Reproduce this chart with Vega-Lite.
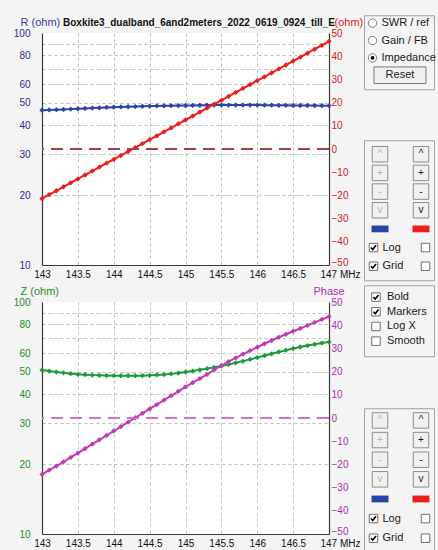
{
  "$schema": "https://vega.github.io/schema/vega-lite/v6.json",
  "background": "#f4f4f4",
  "padding": {"left": 13, "top": 14, "right": 2, "bottom": 2},
  "datasets": {
    "sweep": [
      {"f": 143.0, "R": 46.5, "P1": -21.4, "Z": 50.9, "P2": -24.3},
      {"f": 143.1, "R": 46.6, "P1": -19.7, "Z": 50.4, "P2": -22.5},
      {"f": 143.2, "R": 46.7, "P1": -18.0, "Z": 49.9, "P2": -20.7},
      {"f": 143.3, "R": 46.85, "P1": -16.3, "Z": 49.5, "P2": -18.9},
      {"f": 143.4, "R": 47.0, "P1": -14.6, "Z": 49.1, "P2": -17.0},
      {"f": 143.5, "R": 47.15, "P1": -12.9, "Z": 48.8, "P2": -15.1},
      {"f": 143.6, "R": 47.3, "P1": -11.2, "Z": 48.6, "P2": -13.2},
      {"f": 143.7, "R": 47.45, "P1": -9.5, "Z": 48.4, "P2": -11.3},
      {"f": 143.8, "R": 47.6, "P1": -7.8, "Z": 48.3, "P2": -9.4},
      {"f": 143.9, "R": 47.75, "P1": -6.1, "Z": 48.2, "P2": -7.5},
      {"f": 144.0, "R": 47.9, "P1": -4.5, "Z": 48.15, "P2": -5.6},
      {"f": 144.1, "R": 48.0, "P1": -2.8, "Z": 48.1, "P2": -3.7},
      {"f": 144.2, "R": 48.1, "P1": -1.1, "Z": 48.1, "P2": -1.8},
      {"f": 144.3, "R": 48.2, "P1": 0.6, "Z": 48.1, "P2": 0.1},
      {"f": 144.4, "R": 48.3, "P1": 2.3, "Z": 48.15, "P2": 2.0},
      {"f": 144.5, "R": 48.4, "P1": 4.0, "Z": 48.3, "P2": 3.9},
      {"f": 144.6, "R": 48.5, "P1": 5.7, "Z": 48.5, "P2": 5.8},
      {"f": 144.7, "R": 48.55, "P1": 7.4, "Z": 48.7, "P2": 7.7},
      {"f": 144.8, "R": 48.6, "P1": 9.1, "Z": 49.0, "P2": 9.6},
      {"f": 144.9, "R": 48.65, "P1": 10.8, "Z": 49.4, "P2": 11.5},
      {"f": 145.0, "R": 48.7, "P1": 12.5, "Z": 49.9, "P2": 13.4},
      {"f": 145.1, "R": 48.75, "P1": 14.2, "Z": 50.4, "P2": 15.2},
      {"f": 145.2, "R": 48.8, "P1": 15.9, "Z": 51.0, "P2": 17.0},
      {"f": 145.3, "R": 48.85, "P1": 17.6, "Z": 51.6, "P2": 18.8},
      {"f": 145.4, "R": 48.9, "P1": 19.3, "Z": 52.3, "P2": 20.8},
      {"f": 145.5, "R": 48.9, "P1": 21.0, "Z": 53.0, "P2": 22.6},
      {"f": 145.6, "R": 48.9, "P1": 22.7, "Z": 53.8, "P2": 24.3},
      {"f": 145.7, "R": 48.9, "P1": 24.4, "Z": 54.7, "P2": 25.9},
      {"f": 145.8, "R": 48.9, "P1": 26.1, "Z": 55.6, "P2": 27.5},
      {"f": 145.9, "R": 48.9, "P1": 27.8, "Z": 56.6, "P2": 29.0},
      {"f": 146.0, "R": 48.9, "P1": 29.5, "Z": 57.6, "P2": 30.5},
      {"f": 146.1, "R": 48.85, "P1": 31.1, "Z": 58.7, "P2": 32.0},
      {"f": 146.2, "R": 48.85, "P1": 32.8, "Z": 59.8, "P2": 33.4},
      {"f": 146.3, "R": 48.8, "P1": 34.5, "Z": 60.9, "P2": 34.8},
      {"f": 146.4, "R": 48.8, "P1": 36.2, "Z": 62.0, "P2": 36.1},
      {"f": 146.5, "R": 48.75, "P1": 37.9, "Z": 63.0, "P2": 37.4},
      {"f": 146.6, "R": 48.7, "P1": 39.6, "Z": 64.0, "P2": 38.6},
      {"f": 146.7, "R": 48.7, "P1": 41.3, "Z": 64.9, "P2": 39.9},
      {"f": 146.8, "R": 48.65, "P1": 43.0, "Z": 65.7, "P2": 41.2},
      {"f": 146.9, "R": 48.6, "P1": 44.7, "Z": 66.5, "P2": 42.5},
      {"f": 147.0, "R": 48.6, "P1": 46.4, "Z": 67.2, "P2": 43.7}
    ],
    "modeControls": [
      {"item": "SWR / ref", "kind": "radio", "on": 0},
      {"item": "Gain / FB", "kind": "radio", "on": 0},
      {"item": "Impedance", "kind": "radio", "on": 1},
      {"item": "Reset", "kind": "button", "on": 0}
    ],
    "styleControls": [
      {"item": "Bold", "on": 1},
      {"item": "Markers", "on": 1},
      {"item": "Log X", "on": 0},
      {"item": "Smooth", "on": 0}
    ],
    "traceControlsTop": [
      {"row": "up", "side": "L", "kind": "btn", "label": "^", "enabled": 0},
      {"row": "up", "side": "R", "kind": "btn", "label": "^", "enabled": 1},
      {"row": "plus", "side": "L", "kind": "btn", "label": "+", "enabled": 0},
      {"row": "plus", "side": "R", "kind": "btn", "label": "+", "enabled": 1},
      {"row": "minus", "side": "L", "kind": "btn", "label": "-", "enabled": 0},
      {"row": "minus", "side": "R", "kind": "btn", "label": "-", "enabled": 1},
      {"row": "down", "side": "L", "kind": "btn", "label": "v", "enabled": 0},
      {"row": "down", "side": "R", "kind": "btn", "label": "v", "enabled": 1},
      {"row": "colour", "side": "L", "kind": "swatch", "series": "R"},
      {"row": "colour", "side": "R", "kind": "swatch", "series": "Phase"},
      {"row": "log", "side": "L", "kind": "check", "label": "Log", "on": 1},
      {"row": "log", "side": "R", "kind": "check", "label": "", "on": 0},
      {"row": "grid", "side": "L", "kind": "check", "label": "Grid", "on": 1},
      {"row": "grid", "side": "R", "kind": "check", "label": "", "on": 0}
    ],
    "traceControlsBottom": [
      {"row": "up", "side": "L", "kind": "btn", "label": "^", "enabled": 0},
      {"row": "up", "side": "R", "kind": "btn", "label": "^", "enabled": 1},
      {"row": "plus", "side": "L", "kind": "btn", "label": "+", "enabled": 0},
      {"row": "plus", "side": "R", "kind": "btn", "label": "+", "enabled": 1},
      {"row": "minus", "side": "L", "kind": "btn", "label": "-", "enabled": 0},
      {"row": "minus", "side": "R", "kind": "btn", "label": "-", "enabled": 1},
      {"row": "down", "side": "L", "kind": "btn", "label": "v", "enabled": 0},
      {"row": "down", "side": "R", "kind": "btn", "label": "v", "enabled": 1},
      {"row": "colour", "side": "L", "kind": "swatch", "series": "Z"},
      {"row": "colour", "side": "R", "kind": "swatch", "series": "Phase"},
      {"row": "log", "side": "L", "kind": "check", "label": "Log", "on": 1},
      {"row": "log", "side": "R", "kind": "check", "label": "", "on": 0},
      {"row": "grid", "side": "L", "kind": "check", "label": "Grid", "on": 1},
      {"row": "grid", "side": "R", "kind": "check", "label": "", "on": 0}
    ]
  },
  "config": {
    "font": "Liberation Sans, Arial, sans-serif",
    "view": {"fill": "#ffffff", "stroke": null},
    "text": {"font": "Liberation Sans, Arial, sans-serif", "fontSize": 11, "color": "#1a1a1a"},
    "axis": {
      "labelFont": "Liberation Sans, Arial, sans-serif",
      "titleFont": "Liberation Sans, Arial, sans-serif",
      "labelFontSize": 10,
      "titleFontSize": 11,
      "titleFontWeight": "normal",
      "domainColor": "#3a3a3a",
      "domainWidth": 1.2,
      "tickSize": 0,
      "gridColor": "#bdbdbd",
      "gridDash": [3, 3],
      "gridWidth": 1
    }
  },
  "bounds": "full",
  "center": true,
  "spacing": 0,
  "hconcat": [
    {
      "spacing": 37,
      "bounds": "flush",
      "vconcat": [
        {
          "width": 287,
          "height": 232,
          "title": {
            "text": "Boxkite3_dualband_6and2meters_2022_0619_0924_till_E",
            "anchor": "start",
            "frame": "group",
            "dx": 21,
            "offset": -12,
            "fontSize": 10,
            "fontWeight": "bold",
            "color": "#111111",
            "font": "Liberation Sans, Arial, sans-serif"
          },
          "data": {"name": "sweep"},
          "layer": [
            {
              "mark": {"type": "line", "color": "#2b44a8", "strokeWidth": 2, "point": {"filled": true, "size": 28, "shape": "diamond", "color": "#2b44a8"}},
              "encoding": {
                "x": {
                  "field": "f", "type": "quantitative",
                  "scale": {"domain": [143, 147], "nice": false, "zero": false},
                  "axis": {
                    "values": [143, 143.5, 144, 144.5, 145, 145.5, 146, 146.5, 147],
                    "labelExpr": "datum.value == 147 ? '147 MHz' : '' + datum.value",
                    "labelAlign": {"condition": {"test": "datum.value == 147", "value": "left"}, "value": "center"},
                    "labelOffset": {"condition": {"test": "datum.value == 147", "value": -9}, "value": 0},
                    "labelFlush": false,
                    "labelPadding": 4,
                    "labelColor": "#111111",
                    "title": null,
                    "grid": true,
                    "gridOpacity": {"condition": {"test": "datum.value == 143 || datum.value == 147", "value": 0}, "value": 1}
                  }
                },
                "y": {
                  "field": "R", "type": "quantitative",
                  "scale": {"type": "log", "domain": [10, 100], "nice": false},
                  "axis": {
                    "orient": "left",
                    "values": [10, 20, 30, 40, 50, 60, 70, 80, 90, 100],
                    "labelExpr": "datum.value == 70 || datum.value == 90 ? '' : '' + datum.value",
                    "labelPadding": 12,
                    "labelColor": "#2e2e8e",
                    "grid": true,
                    "gridOpacity": {"condition": {"test": "datum.value == 10 || datum.value == 100", "value": 0}, "value": 1},
                    "title": "R (ohm)",
                    "titleAngle": 0,
                    "titleAlign": "left",
                    "titleBaseline": "alphabetic",
                    "titleX": -22,
                    "titleY": -8,
                    "titleColor": "#3c3ca8"
                  }
                }
              }
            },
            {
              "layer": [
                {
                  "mark": {"type": "line", "color": "#ee1c1c", "strokeWidth": 2, "point": {"filled": true, "size": 28, "shape": "diamond", "color": "#ee1c1c"}},
                  "encoding": {
                    "x": {
                      "field": "f", "type": "quantitative",
                      "scale": {"domain": [143, 147], "nice": false, "zero": false},
                      "axis": {
                        "values": [143, 143.5, 144, 144.5, 145, 145.5, 146, 146.5, 147],
                        "labelExpr": "datum.value == 147 ? '147 MHz' : '' + datum.value",
                        "labelAlign": {"condition": {"test": "datum.value == 147", "value": "left"}, "value": "center"},
                        "labelOffset": {"condition": {"test": "datum.value == 147", "value": -9}, "value": 0},
                        "labelFlush": false,
                        "labelPadding": 4,
                        "labelColor": "#111111",
                        "title": null,
                        "grid": true,
                        "gridOpacity": {"condition": {"test": "datum.value == 143 || datum.value == 147", "value": 0}, "value": 1}
                      }
                    },
                    "y": {
                      "field": "P1", "type": "quantitative",
                      "scale": {"domain": [-50, 50], "nice": false},
                      "axis": {
                        "orient": "right",
                        "values": [-50, -40, -30, -20, -10, 0, 10, 20, 30, 40, 50],
                        "labelPadding": 2,
                        "labelColor": "#d42020",
                        "labelBaseline": {"condition": {"test": "datum.value == -50", "value": "alphabetic"}, "value": "middle"},
                        "grid": false,
                        "title": "(ohm)",
                        "titleAngle": 0,
                        "titleAlign": "left",
                        "titleBaseline": "alphabetic",
                        "titleX": 5,
                        "titleY": -8,
                        "titleColor": "#d42020"
                      }
                    }
                  }
                },
                {
                  "mark": {"type": "rule", "color": "#a84040", "strokeDash": [12, 7], "strokeWidth": 1.5},
                  "encoding": {
                    "y": {
                      "datum": 0, "type": "quantitative",
                      "scale": {"domain": [-50, 50], "nice": false},
                      "axis": {
                        "orient": "right",
                        "values": [-50, -40, -30, -20, -10, 0, 10, 20, 30, 40, 50],
                        "labelPadding": 2,
                        "labelColor": "#d42020",
                        "labelBaseline": {"condition": {"test": "datum.value == -50", "value": "alphabetic"}, "value": "middle"},
                        "grid": false,
                        "title": "(ohm)",
                        "titleAngle": 0,
                        "titleAlign": "left",
                        "titleBaseline": "alphabetic",
                        "titleX": 5,
                        "titleY": -8,
                        "titleColor": "#d42020"
                      }
                    }
                  }
                }
              ]
            }
          ],
          "resolve": {"scale": {"y": "independent"}, "axis": {"y": "independent"}}
        },
        {
          "width": 287,
          "height": 232,
          "data": {"name": "sweep"},
          "layer": [
            {
              "mark": {"type": "line", "color": "#1e9a3c", "strokeWidth": 2, "point": {"filled": true, "size": 28, "shape": "diamond", "color": "#1e9a3c"}},
              "encoding": {
                "x": {
                  "field": "f", "type": "quantitative",
                  "scale": {"domain": [143, 147], "nice": false, "zero": false},
                  "axis": {
                    "values": [143, 143.5, 144, 144.5, 145, 145.5, 146, 146.5, 147],
                    "labelExpr": "datum.value == 147 ? '147 MHz' : '' + datum.value",
                    "labelAlign": {"condition": {"test": "datum.value == 147", "value": "left"}, "value": "center"},
                    "labelOffset": {"condition": {"test": "datum.value == 147", "value": -9}, "value": 0},
                    "labelFlush": false,
                    "labelPadding": 4,
                    "labelColor": "#111111",
                    "title": null,
                    "grid": true,
                    "gridOpacity": {"condition": {"test": "datum.value == 143 || datum.value == 147", "value": 0}, "value": 1}
                  }
                },
                "y": {
                  "field": "Z", "type": "quantitative",
                  "scale": {"type": "log", "domain": [10, 100], "nice": false},
                  "axis": {
                    "orient": "left",
                    "values": [10, 20, 30, 40, 50, 60, 70, 80, 90, 100],
                    "labelExpr": "datum.value == 70 || datum.value == 90 ? '' : '' + datum.value",
                    "labelPadding": 12,
                    "labelColor": "#2a8a2a",
                    "grid": true,
                    "gridOpacity": {"condition": {"test": "datum.value == 10 || datum.value == 100", "value": 0}, "value": 1},
                    "title": "Z (ohm)",
                    "titleAngle": 0,
                    "titleAlign": "left",
                    "titleBaseline": "alphabetic",
                    "titleX": -22,
                    "titleY": -8,
                    "titleColor": "#2a8a2a"
                  }
                }
              }
            },
            {
              "layer": [
                {
                  "mark": {"type": "line", "color": "#c03cb4", "strokeWidth": 2, "point": {"filled": true, "size": 28, "shape": "diamond", "color": "#c03cb4"}},
                  "encoding": {
                    "x": {
                      "field": "f", "type": "quantitative",
                      "scale": {"domain": [143, 147], "nice": false, "zero": false},
                      "axis": {
                        "values": [143, 143.5, 144, 144.5, 145, 145.5, 146, 146.5, 147],
                        "labelExpr": "datum.value == 147 ? '147 MHz' : '' + datum.value",
                        "labelAlign": {"condition": {"test": "datum.value == 147", "value": "left"}, "value": "center"},
                        "labelOffset": {"condition": {"test": "datum.value == 147", "value": -9}, "value": 0},
                        "labelFlush": false,
                        "labelPadding": 4,
                        "labelColor": "#111111",
                        "title": null,
                        "grid": true,
                        "gridOpacity": {"condition": {"test": "datum.value == 143 || datum.value == 147", "value": 0}, "value": 1}
                      }
                    },
                    "y": {
                      "field": "P2", "type": "quantitative",
                      "scale": {"domain": [-50, 50], "nice": false},
                      "axis": {
                        "orient": "right",
                        "values": [-50, -40, -30, -20, -10, 0, 10, 20, 30, 40, 50],
                        "labelPadding": 2,
                        "labelColor": "#b030b0",
                        "labelBaseline": {"condition": {"test": "datum.value == -50", "value": "alphabetic"}, "value": "middle"},
                        "grid": false,
                        "title": "Phase",
                        "titleAngle": 0,
                        "titleAlign": "left",
                        "titleBaseline": "alphabetic",
                        "titleX": -16,
                        "titleY": -8,
                        "titleColor": "#b030b0"
                      }
                    }
                  }
                },
                {
                  "mark": {"type": "rule", "color": "#d070d0", "strokeDash": [12, 7], "strokeWidth": 1.5},
                  "encoding": {
                    "y": {
                      "datum": 0, "type": "quantitative",
                      "scale": {"domain": [-50, 50], "nice": false},
                      "axis": {
                        "orient": "right",
                        "values": [-50, -40, -30, -20, -10, 0, 10, 20, 30, 40, 50],
                        "labelPadding": 2,
                        "labelColor": "#b030b0",
                        "labelBaseline": {"condition": {"test": "datum.value == -50", "value": "alphabetic"}, "value": "middle"},
                        "grid": false,
                        "title": "Phase",
                        "titleAngle": 0,
                        "titleAlign": "left",
                        "titleBaseline": "alphabetic",
                        "titleX": -16,
                        "titleY": -8,
                        "titleColor": "#b030b0"
                      }
                    }
                  }
                }
              ]
            }
          ],
          "resolve": {"scale": {"y": "independent"}, "axis": {"y": "independent"}}
        }
      ]
    },
    {
      "spacing": 3,
      "vconcat": [
        {
          "spacing": 49,
          "vconcat": [
            {
              "width": 70,
              "height": 74,
              "view": {"fill": null, "stroke": "#a0a0a0"},
              "data": {"name": "modeControls"},
              "encoding": {
                "y": {"field": "item", "type": "nominal", "sort": null, "scale": {"type": "point", "padding": 0.63, "align": 0.36}, "axis": null}
              },
              "layer": [
                {
                  "transform": [{"filter": "datum.kind == 'radio'"}],
                  "mark": {"type": "point", "shape": "circle", "size": 70, "filled": true, "fill": "#ffffff", "stroke": "#808080", "strokeWidth": 1, "opacity": 1},
                  "encoding": {"x": {"datum": "radio", "type": "nominal", "scale": {"type": "point", "domain": ["radio", "mid"], "padding": 0.773, "align": 0.2}, "axis": null}}
                },
                {
                  "transform": [{"filter": "datum.on == 1"}],
                  "mark": {"type": "point", "shape": "circle", "size": 14, "filled": true, "color": "#000000", "opacity": 1},
                  "encoding": {"x": {"datum": "radio", "type": "nominal"}}
                },
                {
                  "transform": [{"filter": "datum.kind == 'radio'"}],
                  "mark": {"type": "text", "align": "left", "baseline": "middle", "dx": 9, "fontSize": 11},
                  "encoding": {"x": {"datum": "radio", "type": "nominal"}, "text": {"field": "item"}}
                },
                {
                  "transform": [{"filter": "datum.kind == 'button'"}],
                  "mark": {"type": "point", "shape": "M-1,-0.32L1,-0.32L1,0.32L-1,0.32Z", "size": 2704, "filled": true, "fill": "#f0f0f0", "stroke": "#7a7a7a", "strokeWidth": 1, "opacity": 1},
                  "encoding": {"x": {"datum": "mid", "type": "nominal"}}
                },
                {
                  "transform": [{"filter": "datum.kind == 'button'"}],
                  "mark": {"type": "text", "align": "center", "baseline": "middle", "fontSize": 11},
                  "encoding": {"x": {"datum": "mid", "type": "nominal"}, "text": {"field": "item"}}
                }
              ]
            },
            {
              "width": 70,
              "height": 140,
              "view": {"fill": null, "stroke": "#a0a0a0"},
              "data": {"name": "traceControlsTop"},
              "encoding": {
                "y": {"field": "row", "type": "nominal", "scale": {"type": "point", "domain": ["up", "plus", "minus", "down", "colour", "log", "grid"], "padding": 0.75}, "axis": null}
              },
              "layer": [
                {
                  "transform": [{"filter": "datum.kind == 'btn'"}],
                  "mark": {"type": "point", "shape": "square", "size": 240, "filled": true, "fill": "#f0f0f0", "stroke": "#8c8c8c", "strokeWidth": 1, "opacity": 1},
                  "encoding": {"x": {"field": "side", "type": "nominal", "scale": {"type": "point", "domain": ["L", "R"], "padding": 0.354, "align": 0.552}, "axis": null}}
                },
                {
                  "transform": [{"filter": "datum.kind == 'btn'"}],
                  "mark": {"type": "text", "align": "center", "baseline": "middle", "fontSize": 10},
                  "encoding": {
                    "x": {"field": "side", "type": "nominal", "scale": {"type": "point", "domain": ["L", "R"], "padding": 0.354, "align": 0.552}, "axis": null},
                    "text": {"field": "label"},
                    "color": {"condition": {"test": "datum.enabled == 1", "value": "#1a1a1a"}, "value": "#b4b4b4"}
                  }
                },
                {
                  "transform": [{"filter": "datum.kind == 'swatch'"}],
                  "mark": {"type": "point", "shape": "M-1,-0.4L1,-0.4L1,0.4L-1,0.4Z", "size": 289, "filled": true, "opacity": 1},
                  "encoding": {
                    "x": {"field": "side", "type": "nominal", "scale": {"type": "point", "domain": ["L", "R"], "padding": 0.354, "align": 0.552}, "axis": null},
                    "color": {"field": "series", "type": "nominal", "scale": {"domain": ["R", "Phase"], "range": ["#2b44a8", "#ee1c1c"]}, "legend": null}
                  }
                },
                {
                  "transform": [{"filter": "datum.kind == 'check'"}],
                  "mark": {"type": "point", "shape": "square", "size": 72, "filled": true, "fill": "#ffffff", "stroke": "#707070", "strokeWidth": 1, "opacity": 1},
                  "encoding": {"x": {"field": "side", "type": "nominal", "scale": {"type": "point", "domain": ["L", "R"], "padding": 0.173, "align": 0.528}, "axis": null}}
                },
                {
                  "transform": [{"filter": "datum.kind == 'check' && datum.on == 1"}],
                  "mark": {"type": "point", "shape": "M-0.8,0L-0.25,0.6L0.8,-0.7", "size": 40, "filled": false, "stroke": "#000000", "strokeWidth": 1.6, "opacity": 1},
                  "encoding": {"x": {"field": "side", "type": "nominal", "scale": {"type": "point", "domain": ["L", "R"], "padding": 0.173, "align": 0.528}, "axis": null}}
                },
                {
                  "transform": [{"filter": "datum.kind == 'check' && datum.side == 'L'"}],
                  "mark": {"type": "text", "align": "left", "baseline": "middle", "dx": 9, "fontSize": 11},
                  "encoding": {
                    "x": {"field": "side", "type": "nominal", "scale": {"type": "point", "domain": ["L", "R"], "padding": 0.173, "align": 0.528}, "axis": null},
                    "text": {"field": "label"}
                  }
                }
              ],
              "resolve": {"scale": {"x": "independent"}}
            }
          ]
        },
        {
          "spacing": 50,
          "vconcat": [
            {
              "width": 70,
              "height": 71,
              "view": {"fill": null, "stroke": "#a0a0a0"},
              "data": {"name": "styleControls"},
              "encoding": {
                "x": {"datum": "check", "type": "nominal", "scale": {"type": "point", "domain": ["check"], "padding": 0.5, "align": 0.171}, "axis": null},
                "y": {"field": "item", "type": "nominal", "sort": null, "scale": {"type": "point", "padding": 0.92, "align": 0.44}, "axis": null}
              },
              "layer": [
                {
                  "mark": {"type": "point", "shape": "square", "size": 72, "filled": true, "fill": "#ffffff", "stroke": "#707070", "strokeWidth": 1, "opacity": 1}
                },
                {
                  "transform": [{"filter": "datum.on == 1"}],
                  "mark": {"type": "point", "shape": "M-0.8,0L-0.25,0.6L0.8,-0.7", "size": 40, "filled": false, "stroke": "#000000", "strokeWidth": 1.6, "opacity": 1}
                },
                {
                  "mark": {"type": "text", "align": "left", "baseline": "middle", "dx": 11, "fontSize": 11},
                  "encoding": {"text": {"field": "item"}}
                }
              ]
            },
            {
              "width": 70,
              "height": 157,
              "view": {"fill": null, "stroke": "#a0a0a0"},
              "data": {"name": "traceControlsBottom"},
              "encoding": {
                "y": {"field": "row", "type": "nominal", "scale": {"type": "point", "domain": ["up", "plus", "minus", "down", "colour", "log", "grid"], "padding": 1.205, "align": 0.311}, "axis": null}
              },
              "layer": [
                {
                  "transform": [{"filter": "datum.kind == 'btn'"}],
                  "mark": {"type": "point", "shape": "square", "size": 240, "filled": true, "fill": "#f0f0f0", "stroke": "#8c8c8c", "strokeWidth": 1, "opacity": 1},
                  "encoding": {"x": {"field": "side", "type": "nominal", "scale": {"type": "point", "domain": ["L", "R"], "padding": 0.354, "align": 0.552}, "axis": null}}
                },
                {
                  "transform": [{"filter": "datum.kind == 'btn'"}],
                  "mark": {"type": "text", "align": "center", "baseline": "middle", "fontSize": 10},
                  "encoding": {
                    "x": {"field": "side", "type": "nominal", "scale": {"type": "point", "domain": ["L", "R"], "padding": 0.354, "align": 0.552}, "axis": null},
                    "text": {"field": "label"},
                    "color": {"condition": {"test": "datum.enabled == 1", "value": "#1a1a1a"}, "value": "#b4b4b4"}
                  }
                },
                {
                  "transform": [{"filter": "datum.kind == 'swatch'"}],
                  "mark": {"type": "point", "shape": "M-1,-0.4L1,-0.4L1,0.4L-1,0.4Z", "size": 289, "filled": true, "opacity": 1},
                  "encoding": {
                    "x": {"field": "side", "type": "nominal", "scale": {"type": "point", "domain": ["L", "R"], "padding": 0.354, "align": 0.552}, "axis": null},
                    "color": {"field": "series", "type": "nominal", "scale": {"domain": ["Z", "Phase"], "range": ["#1e9a3c", "#c03cb4"]}, "legend": null}
                  }
                },
                {
                  "transform": [{"filter": "datum.kind == 'check'"}],
                  "mark": {"type": "point", "shape": "square", "size": 72, "filled": true, "fill": "#ffffff", "stroke": "#707070", "strokeWidth": 1, "opacity": 1},
                  "encoding": {"x": {"field": "side", "type": "nominal", "scale": {"type": "point", "domain": ["L", "R"], "padding": 0.173, "align": 0.528}, "axis": null}}
                },
                {
                  "transform": [{"filter": "datum.kind == 'check' && datum.on == 1"}],
                  "mark": {"type": "point", "shape": "M-0.8,0L-0.25,0.6L0.8,-0.7", "size": 40, "filled": false, "stroke": "#000000", "strokeWidth": 1.6, "opacity": 1},
                  "encoding": {"x": {"field": "side", "type": "nominal", "scale": {"type": "point", "domain": ["L", "R"], "padding": 0.173, "align": 0.528}, "axis": null}}
                },
                {
                  "transform": [{"filter": "datum.kind == 'check' && datum.side == 'L'"}],
                  "mark": {"type": "text", "align": "left", "baseline": "middle", "dx": 9, "fontSize": 11},
                  "encoding": {
                    "x": {"field": "side", "type": "nominal", "scale": {"type": "point", "domain": ["L", "R"], "padding": 0.173, "align": 0.528}, "axis": null},
                    "text": {"field": "label"}
                  }
                }
              ],
              "resolve": {"scale": {"x": "independent"}}
            }
          ]
        }
      ]
    }
  ]
}
